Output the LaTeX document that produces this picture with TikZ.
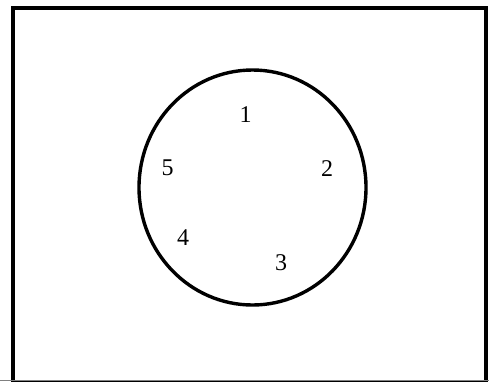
\documentclass[tikz,border=0pt]{standalone}
\usepackage{fontspec}
\setmainfont{Liberation Serif}
\begin{document}
\begin{tikzpicture}[x=1pt,y=-1pt,
  lbl/.style={inner sep=0pt,font=\fontsize{24}{26}\selectfont}]
\useasboundingbox (0,0) rectangle (489,381);
\fill[white] (0,0) rectangle (489,381);
\draw[line width=4pt] (13,7.5) rectangle (485.5,382);
\draw[line width=0.8pt,gray] (0,380.5) -- (489,380.5);
\draw[line width=3.4pt] (252.5,187.5) ellipse [x radius=113.5, y radius=117.5];
\node[lbl] (n1) at (245.5,114.5) {1};
\node[lbl] (n2) at (327,169) {2};
\node[lbl] (n3) at (281,263) {3};
\node[lbl] (n4) at (183,238) {4};
\node[lbl] (n5) at (167.5,168) {5};
\end{tikzpicture}
\end{document}
